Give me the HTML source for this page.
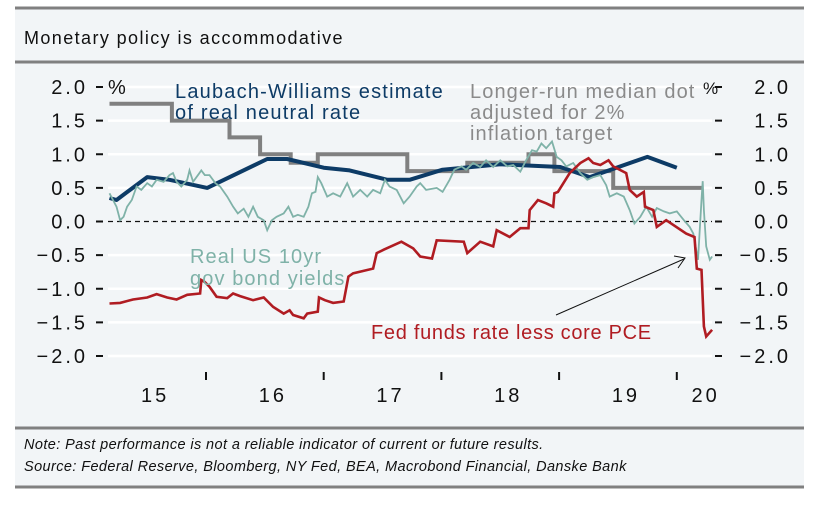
<!DOCTYPE html>
<html><head><meta charset="utf-8">
<style>
html,body{margin:0;padding:0;background:#fff;}
body{width:820px;height:503px;overflow:hidden;font-family:"Liberation Sans",sans-serif;}
</style></head>
<body>
<svg id="chart" width="820" height="503" viewBox="0 0 820 503" xmlns="http://www.w3.org/2000/svg" font-family="Liberation Sans, sans-serif">
  <rect x="15" y="7" width="789" height="480" fill="#f2f5f7"/>
  <line x1="15" y1="8" x2="804" y2="8" stroke="#808080" stroke-width="3"/>
  <text x="24" y="44" font-size="18" letter-spacing="1.4" fill="#111">Monetary policy is accommodative</text>
  <line x1="15" y1="62" x2="804" y2="62" stroke="#808080" stroke-width="3"/>
  <g id="grid"></g>
  <g id="axes"></g>
  <g id="series"></g>
  <text x="108" y="94" font-size="20" fill="#111">%</text>
  <text x="703" y="94" font-size="17" fill="#111">%</text>
  <text font-size="20" letter-spacing="1.2" fill="#0d3b66"><tspan x="175" y="98">Laubach-Williams estimate</tspan><tspan x="175" y="119">of real neutral rate</tspan></text>
  <text font-size="20" letter-spacing="1.1" fill="#8a8a8a"><tspan x="470" y="98">Longer-run median dot</tspan><tspan x="470" y="119">adjusted for 2%</tspan><tspan x="470" y="140">inflation target</tspan></text>
  <text font-size="20" letter-spacing="1.1" fill="#7fb2a8"><tspan x="190" y="263">Real US 10yr</tspan><tspan x="190" y="285">gov bond yields</tspan></text>
  <text x="371" y="339" font-size="20" letter-spacing="0.7" fill="#b01c22">Fed funds rate less core PCE</text>
  <line x1="556" y1="315" x2="684" y2="259" stroke="#111" stroke-width="1"/>
  <polyline points="674,256 685,258 678,268" fill="none" stroke="#111" stroke-width="1"/>
  <line x1="15" y1="428" x2="804" y2="428" stroke="#808080" stroke-width="3"/>
  <text x="24" y="449" font-size="14.5" letter-spacing="0.4" font-style="italic" fill="#111">Note: Past performance is not a reliable indicator of current or future results.</text>
  <text x="24" y="471" font-size="14.5" letter-spacing="0.4" font-style="italic" fill="#111">Source: Federal Reserve, Bloomberg, NY Fed, BEA, Macrobond Financial, Danske Bank</text>
  <line x1="15" y1="487" x2="804" y2="487" stroke="#808080" stroke-width="3"/>
</svg>
<script>
const yTicks = [2.0, 1.5, 1.0, 0.5, 0.0, -0.5, -1.0, -1.5, -2.0];
const yTickLabels = ["2.0","1.5","1.0","0.5","0.0","-0.5","-1.0","-1.5","-2.0"];
const xYearLabels = ["15","16","17","18","19","20"];
const xYearStarts = [2015,2016,2017,2018,2019,2020];

const dotDates = [2015.18,2015.71,2016.20,2016.46,2016.72,2016.95,2017.71,2018.22,2018.74,2018.96,2019.46,2020.21];
const dotValues = [1.75,1.5,1.25,1.0,0.875,1.0,0.75,0.875,1.0,0.75,0.5,0.5];

const lwDates = [2015.18,2015.24,2015.50,2015.69,2016.01,2016.52,2016.69,2017.00,2017.22,2017.54,2017.73,2018.01,2018.50,2019.01,2019.26,2019.75,2020.00];
const lwValues = [0.35,0.32,0.66,0.62,0.50,0.93,0.93,0.80,0.76,0.62,0.62,0.77,0.85,0.81,0.66,0.96,0.80];

const realDates = [2015.18,2015.21,2015.24,2015.27,2015.30,2015.33,2015.37,2015.41,2015.45,2015.50,2015.54,2015.58,2015.64,2015.69,2015.72,2015.75,2015.79,2015.84,2015.86,2015.89,2015.94,2015.96,2015.99,2016.03,2016.08,2016.12,2016.18,2016.23,2016.27,2016.32,2016.36,2016.40,2016.44,2016.49,2016.52,2016.56,2016.60,2016.66,2016.70,2016.74,2016.78,2016.83,2016.87,2016.90,2016.93,2016.95,2016.98,2017.03,2017.08,2017.14,2017.20,2017.25,2017.31,2017.37,2017.42,2017.48,2017.52,2017.56,2017.62,2017.68,2017.73,2017.79,2017.82,2017.87,2017.96,2018.01,2018.07,2018.11,2018.17,2018.21,2018.27,2018.33,2018.38,2018.44,2018.50,2018.56,2018.61,2018.67,2018.72,2018.77,2018.81,2018.85,2018.89,2018.94,2018.98,2019.02,2019.06,2019.12,2019.18,2019.24,2019.29,2019.35,2019.40,2019.43,2019.49,2019.55,2019.60,2019.64,2019.69,2019.74,2019.79,2019.83,2019.89,2019.94,2020.00,2020.06,2020.11,2020.14,2020.18,2020.21,2020.22,2020.23,2020.25,2020.28,2020.30];
const realValues = [0.42,0.32,0.22,0.02,0.07,0.22,0.32,0.52,0.47,0.57,0.52,0.62,0.59,0.69,0.72,0.59,0.52,0.62,0.76,0.59,0.71,0.76,0.69,0.69,0.57,0.52,0.37,0.22,0.12,0.19,0.07,0.22,0.07,0.02,-0.13,0.02,0.07,0.12,0.22,0.07,0.10,0.07,0.22,0.42,0.44,0.66,0.57,0.37,0.42,0.37,0.57,0.37,0.47,0.37,0.47,0.42,0.62,0.52,0.47,0.27,0.37,0.52,0.57,0.47,0.50,0.44,0.62,0.77,0.82,0.77,0.87,0.81,0.91,0.81,0.91,0.82,0.84,0.74,0.91,1.06,1.04,1.16,1.09,1.19,0.96,0.91,0.82,0.87,0.72,0.62,0.66,0.69,0.54,0.37,0.42,0.37,0.17,-0.03,0.07,0.22,0.07,0.20,0.15,0.12,0.15,0.02,-0.08,-0.18,-0.57,0.32,0.60,0.17,-0.37,-0.57,-0.52];

const ffDates = [2015.18,2015.27,2015.38,2015.50,2015.58,2015.67,2015.75,2015.84,2015.95,2015.96,2015.99,2016.03,2016.09,2016.18,2016.23,2016.29,2016.40,2016.49,2016.57,2016.66,2016.71,2016.74,2016.83,2016.86,2016.95,2016.96,2017.01,2017.08,2017.17,2017.21,2017.25,2017.42,2017.45,2017.51,2017.66,2017.76,2017.82,2017.92,2017.96,2018.19,2018.22,2018.33,2018.44,2018.47,2018.58,2018.67,2018.74,2018.75,2018.82,2018.89,2018.95,2018.96,2018.99,2019.09,2019.18,2019.25,2019.29,2019.35,2019.42,2019.46,2019.57,2019.60,2019.66,2019.72,2019.73,2019.80,2019.83,2019.91,2020.08,2020.15,2020.17,2020.21,2020.23,2020.25,2020.30];
const ffValues = [-1.22,-1.21,-1.16,-1.13,-1.08,-1.13,-1.16,-1.09,-1.07,-0.87,-0.90,-0.97,-1.12,-1.14,-1.07,-1.11,-1.17,-1.13,-1.27,-1.37,-1.32,-1.39,-1.44,-1.37,-1.34,-1.13,-1.17,-1.21,-1.19,-0.82,-0.77,-0.70,-0.47,-0.42,-0.30,-0.40,-0.52,-0.55,-0.28,-0.30,-0.47,-0.30,-0.37,-0.13,-0.23,-0.10,-0.10,0.17,0.32,0.27,0.22,0.42,0.44,0.72,0.87,0.94,0.87,0.84,0.91,0.82,0.72,0.47,0.37,0.44,0.22,0.17,-0.08,0.02,-0.18,-0.23,-0.70,-0.72,-1.56,-1.71,-1.61];

const NS = "http://www.w3.org/2000/svg";
const PX0 = 108, PX1 = 712;
function xScale(t){ return 88.3 + (t - 2015) * 117.7; }
function yScale(v){ return 221.5 - v * 67.25; }
function mk(tag, attrs, parent){ const e = document.createElementNS(NS, tag); for (const k in attrs) e.setAttribute(k, attrs[k]); parent.appendChild(e); return e; }

const grid = document.getElementById('grid');
const axes = document.getElementById('axes');
const series = document.getElementById('series');

yTicks.forEach((v, i) => {
  const y = yScale(v);
  if (v !== 0) {
    const g = mk('line', {x1: PX0, x2: PX1, y1: y, y2: y, stroke: '#ffffff', 'stroke-width': 2.5}, grid);
    
    
  }
  const tl = mk('line', {x1: 96, x2: 103, y1: y, y2: y, stroke: '#111', 'stroke-width': 2}, axes);
  
  
  const tr = mk('line', {x1: 715, x2: 722, y1: y, y2: y, stroke: '#111', 'stroke-width': 2}, axes);
  
  
  const ll = mk('text', {x: 88, y: y + 7, 'font-size': 20, 'text-anchor': 'end', fill: '#111', 'letter-spacing': 3}, axes);
  ll.textContent = yTickLabels[i].replace('-', '\u2212');
  
  
  const rl = mk('text', {x: 791, y: y + 7, 'font-size': 20, 'text-anchor': 'end', fill: '#111', 'letter-spacing': 3}, axes);
  rl.textContent = yTickLabels[i].replace('-', '\u2212');
  
  
});

const zl = mk('line', {x1: PX0, x2: PX1, y1: yScale(0), y2: yScale(0), stroke: '#111', 'stroke-width': 1.3, 'stroke-dasharray': '5,4'}, grid);



xYearStarts.forEach((yr, i) => {
  if (i > 0) {
    const tk = mk('line', {x1: xScale(yr), x2: xScale(yr), y1: 372, y2: 380, stroke: '#111', 'stroke-width': 2}, axes);
    
    
  }
  const lab = mk('text', {x: xScale(yr + 0.5) + (i === 5 ? -30 : 8), y: 402, 'font-size': 20, 'text-anchor': 'middle', fill: '#111', 'letter-spacing': 3}, axes);
  lab.textContent = xYearLabels[i];
  
  
});

function linePts(ds, vs){ return ds.map((d, i) => xScale(d).toFixed(1) + ',' + yScale(vs[i]).toFixed(1)).join(' '); }
function stepPts(ds, vs){
  const p = [];
  for (let i = 0; i < ds.length; i++) {
    if (i > 0) p.push(xScale(ds[i]).toFixed(1) + ',' + yScale(vs[i-1]).toFixed(1));
    p.push(xScale(ds[i]).toFixed(1) + ',' + yScale(vs[i]).toFixed(1));
  }
  return p.join(' ');
}

const dot = mk('polyline', {points: stepPts(dotDates, dotValues), fill: 'none', stroke: '#808080', 'stroke-width': 4}, series);


const lw = mk('polyline', {points: linePts(lwDates, lwValues), fill: 'none', stroke: '#0d3b66', 'stroke-width': 4, 'stroke-linejoin': 'round'}, series);


const ry = mk('polyline', {points: linePts(realDates, realValues), fill: 'none', stroke: '#7fb2a8', 'stroke-width': 1.8}, series);


const ff = mk('polyline', {points: linePts(ffDates, ffValues), fill: 'none', stroke: '#b01c22', 'stroke-width': 2.6}, series);


</script>
</body></html>
